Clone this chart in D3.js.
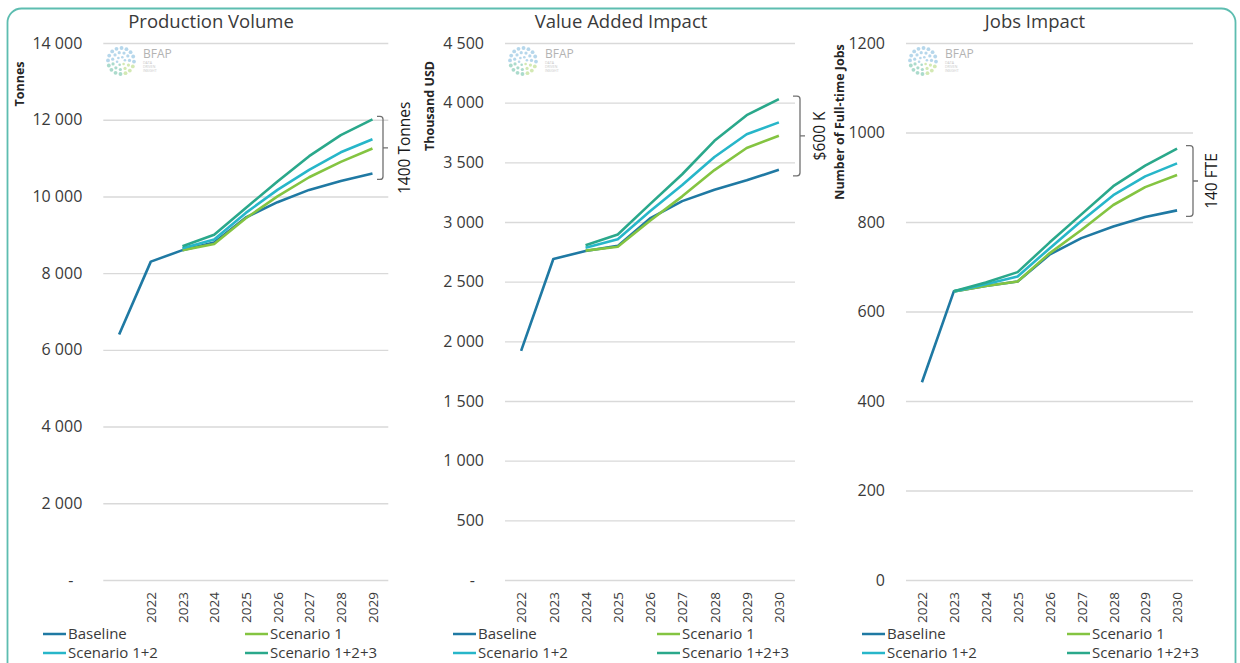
<!DOCTYPE html>
<html><head><meta charset="utf-8">
<script src="https://cdn.jsdelivr.net/npm/d3@7"></script>
<style>
body{margin:0;background:#fff}
svg{display:block}
text{font-family:'Open Sans',sans-serif}
</style>
</head><body>
<svg id="chart" width="1240" height="663"></svg>
<script>
// ---------------- DATA ----------------
const seriesNames = ["Baseline", "Scenario 1", "Scenario 1+2", "Scenario 1+2+3"];

const prodCategories = ["", "2022", "2023", "2024", "2025", "2026", "2027", "2028", "2029"];
const prodBaseline  = [6400, 8300, 8600, 8800, 9450, 9850, 10170, 10400, 10600];
const prodScenario1 = [null, null, 8600, 8760, 9430, 10000, 10500, 10900, 11250];
const prodScenario12 = [null, null, 8650, 8880, 9570, 10170, 10690, 11150, 11490];
const prodScenario123 = [null, null, 8700, 9000, 9700, 10390, 11050, 11600, 12010];
const prodTicks = [0, 2000, 4000, 6000, 8000, 10000, 12000, 14000];

const valueCategories = ["2022", "2023", "2024", "2025", "2026", "2027", "2028", "2029", "2030"];
const valueBaseline  = [1920, 2690, 2757, 2800, 3030, 3175, 3270, 3350, 3437];
const valueScenario1 = [null, null, 2760, 2792, 3010, 3215, 3435, 3620, 3722];
const valueScenario12 = [null, null, 2785, 2855, 3090, 3310, 3545, 3735, 3835];
const valueScenario123 = [null, null, 2805, 2895, 3150, 3400, 3680, 3895, 4030];
const valueTicks = [0, 500, 1000, 1500, 2000, 2500, 3000, 3500, 4000, 4500];

const jobsCategories = ["2022", "2023", "2024", "2025", "2026", "2027", "2028", "2029", "2030"];
const jobsBaseline  = [442, 645, 657, 667, 727, 764, 790, 811, 826];
const jobsScenario1 = [null, 645, 657, 667, 730, 782, 838, 878, 905];
const jobsScenario12 = [null, 645, 661, 678, 741, 802, 860, 902, 931];
const jobsScenario123 = [null, 645, 665, 688, 754, 817, 880, 926, 964];
const jobsTicks = [0, 200, 400, 600, 800, 1000, 1200];

const panelTitles = ["Production Volume", "Value Added Impact", "Jobs Impact"];
const yAxisTitles = ["Tonnes", "Thousand USD", "Number of Full-time Jobs"];
const annotationLabels = ["1400 Tonnes", "$600 K", "140 FTE"];

// ---------------- STYLE / LAYOUT ----------------
const seriesColors = ["#1f79a3", "#84c441", "#27b6c9", "#2aa88b"];
const gridColor = "#d9d9d9";
const textColor = "#3a3a3a";

const spaceFmt = v => v === 0 ? "-" : d3.format(",")(v).replace(/,/g, " ");
const plainFmt = v => d3.format("d")(v);

const panels = [
  {cats: prodCategories, series: [prodBaseline, prodScenario1, prodScenario12, prodScenario123],
   ticks: prodTicks, fmt: spaceFmt, zeroDx: -9,
   x0: 103.3, x1: 388.3, titleX: 211, yTitleX: 20, yTitleY: 84,
   legendX: [43, 245], logoX: 121, bx0: 377, bx1: 383, annX: 405},
  {cats: valueCategories, series: [valueBaseline, valueScenario1, valueScenario12, valueScenario123],
   ticks: valueTicks, fmt: spaceFmt, zeroDx: -9,
   x0: 505, x1: 795, titleX: 621, yTitleX: 430, yTitleY: 106,
   legendX: [453, 657], logoX: 523, bx0: 793, bx1: 800, annX: 820},
  {cats: jobsCategories, series: [jobsBaseline, jobsScenario1, jobsScenario12, jobsScenario123],
   ticks: jobsTicks, fmt: plainFmt, zeroDx: 0,
   x0: 906, x1: 1193, titleX: 1035, yTitleX: 840, yTitleY: 122,
   legendX: [862, 1067], logoX: 923, bx0: 1186, bx1: 1193, annX: 1212}
];

const yTop = 43, yBottom = 580;
const svg = d3.select("#chart");

svg.append("rect").attr("x", 0).attr("y", 0).attr("width", 1240).attr("height", 663).attr("fill", "#fff");
// outer rounded border
svg.append("rect").attr("x", 7.5).attr("y", 8.5).attr("width", 1228).attr("height", 720)
  .attr("rx", 14).attr("fill", "none").attr("stroke", "#5dbdb0").attr("stroke-width", 1.8);

function drawLogo(g, cx, cy) {
  const lg = g.append("g").attr("opacity", 0.5);
  const rings = [{r: 13, n: 16, s: 1.9}, {r: 8.5, n: 11, s: 1.6}, {r: 4, n: 6, s: 1.3}];
  rings.forEach(rg => {
    for (let k = 0; k < rg.n; k++) {
      const a = (k / rg.n) * 2 * Math.PI + rg.r;
      const px = cx + rg.r * Math.cos(a), py = cy + rg.r * Math.sin(a);
      const col = py < cy + 1 ? "#6fb1d9" : (px < cx ? "#5ab89a" : "#a9d46a");
      lg.append("circle").attr("cx", px).attr("cy", py).attr("r", rg.s).attr("fill", col);
    }
  });
  g.append("text").attr("x", cx + 22).attr("y", cy - 3).attr("font-size", 12)
    .attr("fill", "#b3b3b3").text("BFAP");
  ["DATA", "DRIVEN", "INSIGHT"].forEach((t, i) => {
    g.append("text").attr("x", cx + 22).attr("y", cy + 3 + i * 4).attr("font-size", 3.5)
      .attr("fill", "#c8c8c8").text(t);
  });
}

panels.forEach((p, pi) => {
  const g = svg.append("g");
  const x = d3.scalePoint().domain(p.cats).range([p.x0, p.x1]).padding(0.5);
  const y = d3.scaleLinear().domain([0, d3.max(p.ticks)]).range([yBottom, yTop]);

  // title
  g.append("text").attr("x", p.titleX).attr("y", 28).attr("text-anchor", "middle")
    .attr("font-size", 18.5).attr("fill", textColor).text(panelTitles[pi]);

  // y axis title
  g.append("text").attr("transform", `translate(${p.yTitleX},${p.yTitleY}) rotate(-90)`)
    .attr("text-anchor", "middle").attr("dy", "0.35em").attr("font-size", 12.5)
    .attr("font-weight", "bold").attr("fill", "#262626").text(yAxisTitles[pi]);

  // y axis with gridlines
  const yAxis = d3.axisLeft(y).tickValues(p.ticks).tickSize(-(p.x1 - p.x0))
    .tickPadding(21).tickFormat(p.fmt);
  const ya = g.append("g").attr("transform", `translate(${p.x0},0)`).call(yAxis);
  ya.select(".domain").remove();
  ya.selectAll("line").attr("stroke", gridColor).attr("stroke-width", 1.4);
  ya.selectAll("text").attr("font-size", 16).attr("fill", textColor)
    .attr("dx", d => d === 0 ? p.zeroDx : 0);

  drawLogo(g, p.logoX, 61);

  // x axis
  const xAxis = d3.axisBottom(x).tickSize(0).tickPadding(0);
  const xa = g.append("g").attr("transform", `translate(0,${yBottom})`).call(xAxis);
  xa.select(".domain").remove();
  xa.selectAll("text").attr("transform", "rotate(-90)").attr("text-anchor", "end")
    .attr("x", -12).attr("y", 0).attr("dy", "0.35em")
    .attr("font-size", 13.5).attr("fill", textColor);

  // lines
  const line = d3.line().defined(d => d != null)
    .x((d, i) => x(p.cats[i])).y(d => y(d));
  p.series.forEach((s, si) => {
    g.append("path").datum(s).attr("d", line).attr("fill", "none")
      .attr("stroke", seriesColors[si]).attr("stroke-width", 2.6)
      .attr("stroke-linejoin", "round");
  });

  // bracket annotation
  const last = p.cats.length - 1;
  const yT = y(p.series[3][last]) - 3;
  const yB = y(p.series[0][last]) + 6;
  const yM = (yT + yB) / 2;
  const r = 3;
  const path = `M${p.bx0},${yT} H${p.bx1 - r} Q${p.bx1},${yT} ${p.bx1},${yT + r} V${yB - r} Q${p.bx1},${yB} ${p.bx1 - r},${yB} H${p.bx0} M${p.bx1},${yM} H${p.bx1 + 5}`;
  g.append("path").attr("d", path).attr("fill", "none").attr("stroke", "#707070").attr("stroke-width", 1.3);
  g.append("text").attr("transform", `translate(${p.annX},${yM}) rotate(-90)`)
    .attr("text-anchor", "middle").attr("dy", "0.35em").attr("font-size", 15.5)
    .attr("fill", "#1a1a1a").text(annotationLabels[pi]);

  // legend
  seriesNames.forEach((name, si) => {
    const lx = p.legendX[si % 2];
    const ly = 634 + Math.floor(si / 2) * 19;
    g.append("line").attr("x1", lx).attr("x2", lx + 23).attr("y1", ly).attr("y2", ly)
      .attr("stroke", seriesColors[si]).attr("stroke-width", 2.5);
    g.append("text").attr("x", lx + 25).attr("y", ly).attr("dy", "0.35em")
      .attr("font-size", 15).attr("fill", textColor).text(name);
  });
});
</script>
</body></html>
